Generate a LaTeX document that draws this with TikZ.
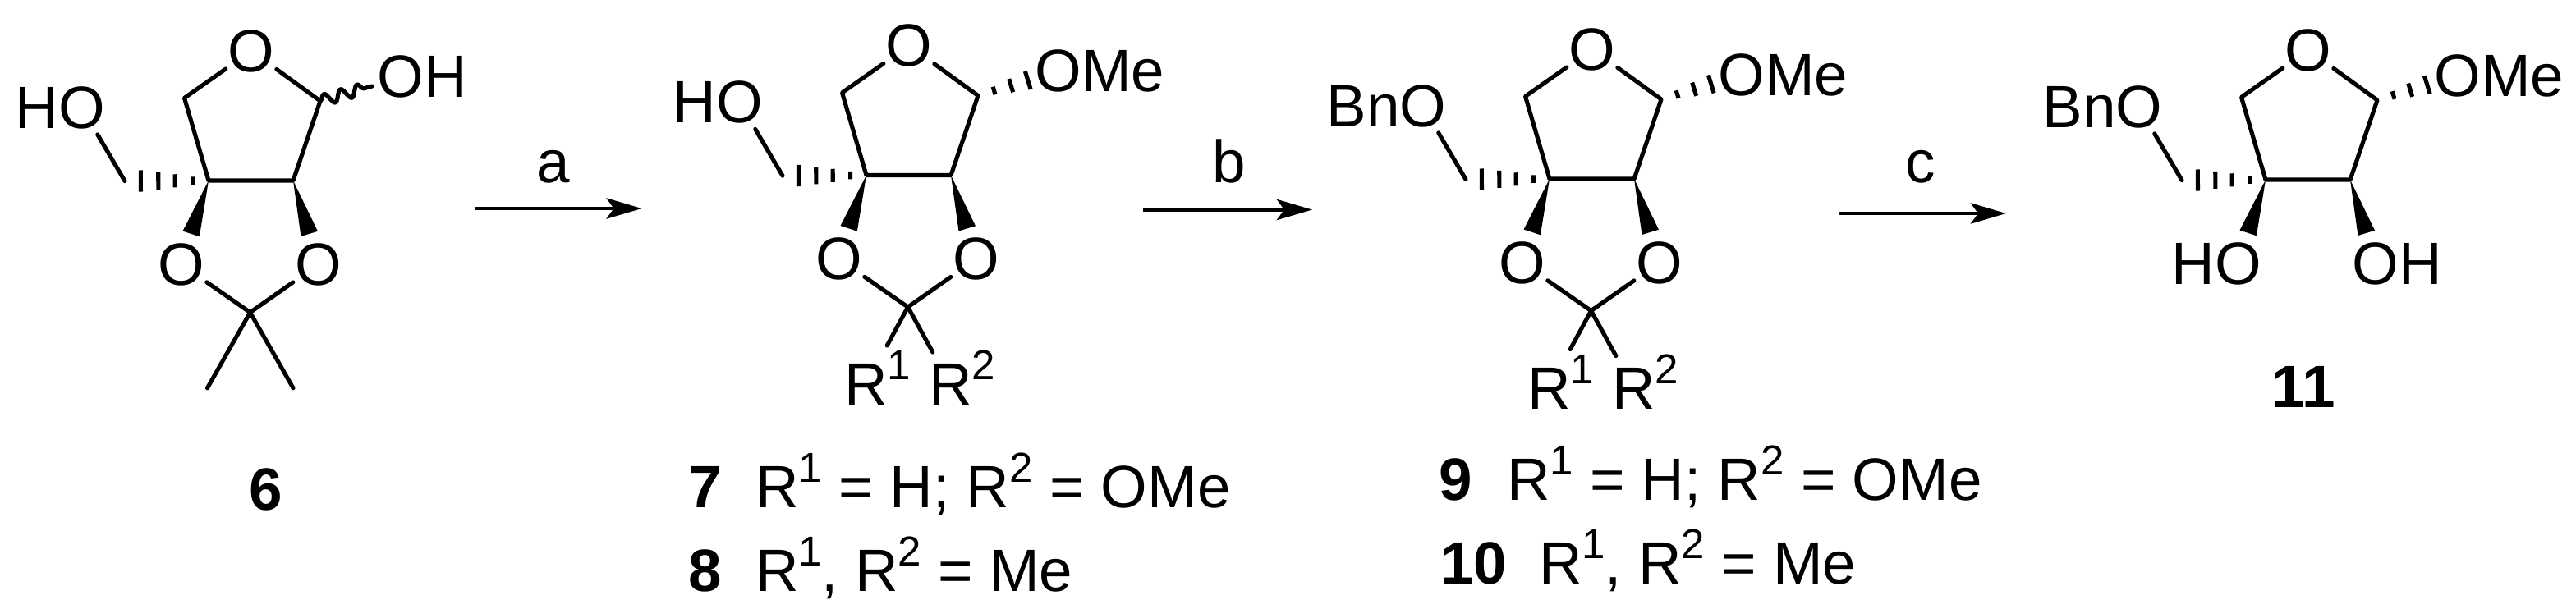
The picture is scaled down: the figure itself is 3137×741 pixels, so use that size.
\documentclass[tikz,border=0pt]{standalone}
\usepackage{fontspec}
\setmainfont{Liberation Sans}
\usetikzlibrary{arrows.meta,calc,decorations.pathmorphing}
\tikzset{
  txt/.style={inner sep=0pt, outer sep=0pt, font=\fontsize{20.7}{24}\selectfont},
  atom/.style={txt, circle, minimum size=0.72cm},
  rgroup/.style={txt, circle, minimum size=0.9cm},
  cmpd/.style={txt, font=\fontsize{20.7}{24}\selectfont\bfseries},
  supnum/.style={txt, font=\fontsize{14.5}{16}\selectfont},
  bondline/.style={line width=1.45pt, line cap=round, line join=round},
  hashline/.style={line width=1.45pt},
  rxnarrow/.style={line width=1.4pt, -{Stealth[length=0.43cm,width=0.25cm,inset=0.09cm]}}
}
\newcommand\supr[1]{\raisebox{0.31cm}{\fontsize{14.5}{16}\selectfont #1}}
\newcommand\hashbond[3]{\foreach \f/\w in {#3} {
  \draw[hashline] ($(#1)!\f!(#2)!\w cm!90:(#2)$) -- ($(#1)!\f!(#2)!\w cm!-90:(#2)$);
}}
\newcommand\wedgebond[2]{\fill (#1) -- ($(#1)!0.636!(#2)!0.107cm!90:(#2)$) -- ($(#1)!0.636!(#2)!0.107cm!-90:(#2)$) -- cycle;}
\begin{document}
\begin{tikzpicture}[x=0.01cm, y=-0.01cm]
\useasboundingbox (0,0) rectangle (3137,741);
\foreach \m/\dx/\dy in {m6/0/0, m7/801/-6.5, m9/1633/-2, m11/2505/-1} {
  \begin{scope}[shift={(\dx,\dy)}]
    \node[atom] (\m-oa) at (306,62) {O};
    \node[atom] (\m-ob) at (220.5,322) {O};
    \node[atom] (\m-oc) at (388,322) {O};
    \node[atom] (\m-od) at (99.5,131) {O};
    \node[atom] (\m-oe) at (488,93) {O};
    \coordinate (\m-ca) at (390,123);
    \coordinate (\m-cb) at (357,220);
    \coordinate (\m-cc) at (254,220);
    \coordinate (\m-cd) at (224.5,119.4);
    \coordinate (\m-ch) at (152,220.6);
    \coordinate (\m-ck) at (304.6,380.6);
    \draw[bondline] (\m-oa) -- (\m-ca) -- (\m-cb) -- (\m-cc) -- (\m-cd) -- (\m-oa);
    \draw[bondline] (\m-ch) -- (\m-od);
    \hashbond{\m-cc}{\m-ch}{0.19/0.047,0.40/0.08,0.60/0.105,0.81/0.13}
    \wedgebond{\m-cc}{\m-ob}
    \wedgebond{\m-cb}{\m-oc}
  \end{scope}
}
% 6
\coordinate (m6-wv) at (453,105);
\draw[bondline, decorate, decoration={snake, amplitude=0.07cm, segment length=0.21cm}] (m6-ca) -- (m6-wv);
\node[txt, anchor=base west] (m6-ha) at ([xshift=0.28cm]m6-oe.base) {H};
\node[txt, anchor=base east] (m6-hb) at ([xshift=-0.28cm]m6-od.base) {H};
\coordinate (m6-me1) at (252.5,472.8);
\coordinate (m6-me2) at (357,472.8);
\draw[bondline] (m6-ob) -- (m6-ck) -- (m6-oc);
\draw[bondline] (m6-me1) -- (m6-ck) -- (m6-me2);
\node[cmpd, anchor=base] (n6) at (324,621) {6};
% 7, 9
\foreach \m/\dx/\dy/\pre in {m7/801/-6.5/H, m9/1633/-2/Bn} {
  \begin{scope}[shift={(\dx,\dy)}]
    \node[txt, anchor=base west] (\m-me) at ([xshift=0.28cm]\m-oe.base) {Me};
    \node[txt, anchor=base east] (\m-pr) at ([xshift=-0.28cm]\m-od.base) {\pre};
    \hashbond{\m-ca}{\m-oe}{0.2/0.05,0.41/0.085,0.62/0.115}
    \node[rgroup] (\m-ra) at (253.5,475) {R};
    \node[rgroup] (\m-rb) at (356.5,475) {R};
    \node[supnum, anchor=base west] (\m-sa) at ([xshift=0.26cm,yshift=0.31cm]\m-ra.base) {1};
    \node[supnum, anchor=base west] (\m-sb) at ([xshift=0.26cm,yshift=0.31cm]\m-rb.base) {2};
    \draw[bondline] (\m-ob) -- (\m-ck) -- (\m-oc);
    \draw[bondline, shorten >=0.09cm] (\m-ck) -- (\m-ra);
    \draw[bondline] (\m-ck) -- (\m-rb);
  \end{scope}
}
% 11
\node[txt, anchor=base west] (m11-me) at ([xshift=0.28cm]m11-oe.base) {Me};
\node[txt, anchor=base east] (m11-bn) at ([xshift=-0.28cm]m11-od.base) {Bn};
\hashbond{m11-ca}{m11-oe}{0.2/0.05,0.41/0.085,0.62/0.115}
\node[txt, anchor=base east] (m11-ha) at ([xshift=-0.28cm]m11-ob.base) {H};
\node[txt, anchor=base west] (m11-hb) at ([xshift=0.28cm]m11-oc.base) {H};
\node[cmpd, anchor=base] (n11) at (2805,496.7) {11};

\node[cmpd, anchor=base west] (n7) at (838,618.4) {7};
\node[txt, anchor=base west] (t7) at (920,618.4) {R\supr{1} = H; R\supr{2} = OMe};
\node[cmpd, anchor=base west] (n8) at (838,720) {8};
\node[txt, anchor=base west] (t8) at (920,720) {R\supr{1}, R\supr{2} = Me};
\node[cmpd, anchor=base west] (n9) at (1752,609) {9};
\node[txt, anchor=base west] (t9) at (1835,609) {R\supr{1} = H; R\supr{2} = OMe};
\node[cmpd, anchor=base west] (n10) at (1754,711.6) {10};
\node[txt, anchor=base west] (t10) at (1874,711.6) {R\supr{1}, R\supr{2} = Me};

\foreach \lab/\xa/\xb/\ya/\xl in {a/577.5/781.6/254/673.5, b/1392/1598/255.5/1497, c/2239/2443/260/2339} {
  \coordinate (\lab-s) at (\xa,\ya);
  \coordinate (\lab-e) at (\xb,\ya);
  \draw[rxnarrow] (\lab-s) -- (\lab-e);
  \node[txt, anchor=base] (\lab-l) at (\xl,222) {\lab};
}
\end{tikzpicture}
\end{document}
